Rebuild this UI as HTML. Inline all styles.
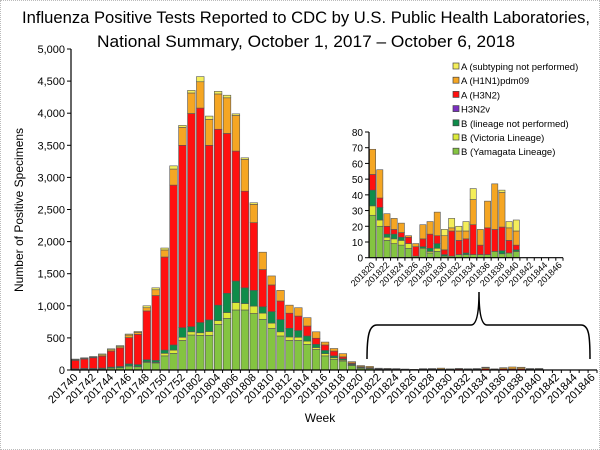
<!DOCTYPE html>
<html><head><meta charset="utf-8"><style>
html,body{margin:0;padding:0;background:#fff;}
#wrap{width:600px;height:450px;position:relative;overflow:hidden;box-sizing:border-box;border:1px dotted #bbb;}
svg text{font-family:"Liberation Sans",sans-serif;}
</style></head><body>
<div id="wrap">
<svg id="chart" width="600" height="450">
<text x="305" y="22" text-anchor="middle" font-size="17" textLength="568" lengthAdjust="spacingAndGlyphs">Influenza Positive Tests Reported to CDC by U.S. Public Health Laboratories,</text>
<text x="305" y="46" text-anchor="middle" font-size="17" textLength="418" lengthAdjust="spacingAndGlyphs">National Summary, October 1, 2017 – October 6, 2018</text>
<text transform="translate(22,209) rotate(-90)" text-anchor="middle" font-size="12">Number of Positive Specimens</text>
<text x="319" y="421" text-anchor="middle" font-size="12">Week</text>
<path d="M366,358 C366,335 368,324 376,324 L470,324 C476,324 478,310 478,291 C478,310 480,324 486,324 L580,324 C588,324 589,335 589,358" fill="none" stroke="#000" stroke-width="1.5"/>
<g id="main"></g>
<g id="inset"></g>
<g id="legend"></g>
</svg>
</div>
<script>
const weeks = ["201740","201741","201742","201743","201744","201745","201746","201747","201748","201749","201750","201751","201752","201801","201802","201803","201804","201805","201806","201807","201808","201809","201810","201811","201812","201813","201814","201815","201816","201817","201818","201819","201820","201821","201822","201823","201824","201825","201826","201827","201828","201829","201830","201831","201832","201833","201834","201835","201836","201837","201838","201839","201840","201841","201842","201843","201844","201845","201846"];
const yamagata = [10,15,15,15,30,35,60,50,120,110,220,260,460,545,540,540,710,805,935,935,880,790,650,530,460,460,400,320,220,165,140,70,27,20,11,9,8,6,1,6,3,4,1,1,2,2,2,2,2,4,2.5,3,4,0,0,0,0,0,0];
const victoria = [0,0,0,0,0,0,5,5,10,10,40,50,50,50,40,60,60,90,115,100,115,95,80,65,55,50,50,30,35,25,15,10,6,4,2,3,3,3,0,0,1,2,0,0,0,0,0,0,0,0,0,0,0,0,0,0,0,0,0];
const bLineageNP = [10,10,10,15,15,20,30,30,30,30,50,80,150,80,160,180,240,300,335,245,245,100,180,190,135,105,80,50,50,30,20,15,10,8,2,3,2,0,0,1,2,3,1,0,0,1,0,0,0,0,2,0,1,0,0,0,0,0,0];
const h3n2v = [0,0,0,0,0,0,0,0,0,0,0,0,0,0,0,0,0,0,0,0,0,0,0,0,0,0,0,0,0,0,0,0,0,0,0,0,0,0,0,0,0,0,0,0,0,0,0,0,0,0,0,0,0,0,0,0,0,0,0];
const h3n2 = [130,145,165,185,250,290,410,470,760,1010,1450,2490,2840,3320,3340,2720,2740,2490,2025,1505,1055,580,415,290,235,225,155,95,85,75,30,15,10,6,5,3,3,4,6,5,9,5,3,16,9,9,19,6,17,14,15,8,3,0,0,0,0,0,0];
const h1n1 = [10,10,10,20,20,20,40,30,50,90,110,250,280,320,410,405,550,555,555,495,285,270,140,165,125,130,130,100,45,40,50,20,16,18,8,7,6,1,2,9,8,15,9,2,6,5,16,10,17,29,22,8,9,0,0,0,0,0,0];
const aNotSubtyped = [10,10,10,15,15,15,15,15,30,30,30,50,30,40,80,50,40,40,25,25,25,0,0,0,0,0,0,0,0,0,0,0,0,0,0,0,0,0,0,0,0,0,4,6,3,6,7,0,0,0,1.5,4,7,0,0,0,0,0,0];
const mainYTicks = [0,500,1000,1500,2000,2500,3000,3500,4000,4500,5000];
const insetYTicks = [0,10,20,30,40,50,60,70,80];
const insetStart = 32;
const seriesNames = ["B (Yamagata Lineage)","B (Victoria Lineage)","B (lineage not performed)","H3N2v","A (H3N2)","A (H1N1)pdm09","A (subtyping not performed)"];
const seriesColors = ["#84c441","#dcea3a","#0e8c4a","#7a2fbf","#ff1010","#f5a623","#f4ee5a"];
const seriesData = [yamagata,victoria,bLineageNP,h3n2v,h3n2,h1n1,aNotSubtyped];

const NS="http://www.w3.org/2000/svg";
function mk(tag,attrs,parent,txt){const e=document.createElementNS(NS,tag);for(const k in attrs)e.setAttribute(k,attrs[k]);if(txt!==undefined)e.textContent=txt;parent.appendChild(e);return e;}

function drawPlot(g,opt){
  const {x0,x1,y0,y1,ymax,ticks,start,count,fmt,barW,tickFont,labelFont,labelStep}=opt;
  const slot=(x1-x0)/count;
  const ys=v=>y0-(v/ymax)*(y0-y1);
  const xs=i=>x0+slot*(i+0.5);
  for(const t of ticks){
    const tl=mk('line',{x1:x0-4,x2:x0,y1:ys(t),y2:ys(t),stroke:'#000'},g);
    
    
    const tx=mk('text',{x:x0-6,y:ys(t)+4,'text-anchor':'end','font-size':tickFont},g,fmt(t));
    
    
  }
  for(let i=0;i<count;i++){
    const wi=start+i;
    let acc=0;
    for(let s=0;s<seriesData.length;s++){
      const v=seriesData[s][wi];
      if(!v)continue;
      const r=mk('rect',{x:xs(i)-barW/2,y:ys(acc+v),width:barW,height:ys(acc)-ys(acc+v),fill:seriesColors[s],stroke:'#555','stroke-width':0.6},g);
      
      
      acc+=v;
    }
    const tk=mk('line',{x1:x0+slot*(i+1),x2:x0+slot*(i+1),y1:y0,y2:y0+3,stroke:'#000'},g);
    
    
    if(i%labelStep===0){
      const lx=xs(i)+3, ly=y0+8;
      const t=mk('text',{x:lx,y:ly,'text-anchor':'end','font-size':labelFont,transform:`rotate(-45 ${lx} ${ly})`},g,weeks[wi]);
      
      
    }
  }
  const ya=mk('line',{x1:x0,x2:x0,y1:y1,y2:y0,stroke:'#000','stroke-width':1.2},g);
  
  
  const xa=mk('line',{x1:x0,x2:x1,y1:y0,y2:y0,stroke:'#000','stroke-width':1.2},g);
  
  
}
drawPlot(document.getElementById('main'),{x0:70,x1:596,y0:369,y1:48,ymax:5000,ticks:mainYTicks,start:0,count:weeks.length,fmt:t=>t.toLocaleString('en-US'),barW:7.6,tickFont:11,labelFont:11,labelStep:2});
drawPlot(document.getElementById('inset'),{x0:368,x1:562,y0:256.7,y1:131,ymax:80,ticks:insetYTicks,start:insetStart,count:weeks.length-insetStart,fmt:t=>String(t),barW:6.2,tickFont:10,labelFont:9,labelStep:2});

const lg=document.getElementById('legend');
const order=[6,5,4,3,2,1,0];
order.forEach((s,k)=>{
  const y=68+k*14.2;
  const r=mk('rect',{x:452,y:y-6,width:6,height:6,fill:seriesColors[s],stroke:'#444','stroke-width':0.7},lg);
  
  
  const t=mk('text',{x:460,y:y+1,'font-size':9.5},lg,seriesNames[s]);
  
  
});
</script>
</body></html>
